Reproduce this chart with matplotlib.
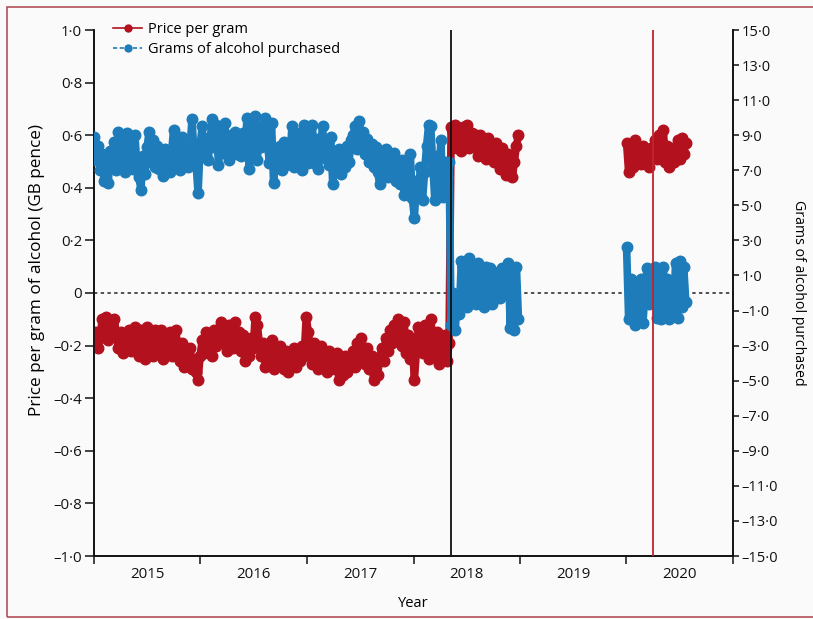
import numpy as np
import pandas as pd
import matplotlib
matplotlib.use("Agg")
import matplotlib.pyplot as plt
import matplotlib.dates as mdates
from matplotlib.lines import Line2D
from matplotlib.patches import Rectangle
from matplotlib.ticker import FixedLocator, FuncFormatter, NullFormatter

plt.rcParams["font.family"] = ["Open Sans", "DejaVu Sans"]

# weekly series, Jan 2015 up to MUP in Scotland (May 2018), then to end of 2018
red_pre = [
    -0.2, -0.15, -0.21, -0.17,
    -0.1, -0.16, -0.09, -0.18, -0.11, -0.15, -0.1,
    -0.16, -0.21, -0.15, -0.23, -0.17, -0.2, -0.14, -0.22, -0.16,
    -0.13, -0.21, -0.24, -0.14, -0.19, -0.25, -0.13, -0.2, -0.16, -0.24, -0.14,
    -0.18, -0.23, -0.14, -0.25, -0.17, -0.21, -0.15, -0.24, -0.19, -0.14,
    -0.2, -0.26, -0.19, -0.28, -0.22, -0.27, -0.21, -0.29, -0.25, -0.3, -0.33,
    -0.24, -0.18, -0.23, -0.15, -0.21, -0.17, -0.24, -0.14, -0.2, -0.16,
    -0.11, -0.19, -0.13, -0.22, -0.12, -0.18, -0.21, -0.11, -0.2, -0.15,
    -0.22, -0.16, -0.26, -0.18, -0.24, -0.17, -0.21,
    -0.09, -0.12, -0.19,
    -0.24, -0.19, -0.28, -0.21, -0.26, -0.18, -0.29, -0.23, -0.27, -0.2,
    -0.25, -0.29, -0.22, -0.3, -0.24, -0.27, -0.21, -0.28, -0.23, -0.26, -0.2, -0.24,
    -0.09, -0.15,
    -0.21, -0.27, -0.19, -0.25, -0.29, -0.2, -0.26, -0.23, -0.3, -0.22, -0.28, -0.24,
    -0.29, -0.23, -0.33, -0.26, -0.31, -0.24, -0.3, -0.27, -0.25,
    -0.22, -0.28, -0.19, -0.25, -0.17, -0.23, -0.27, -0.21,
    -0.29, -0.24, -0.33, -0.27, -0.31, -0.25,
    -0.21, -0.26, -0.17, -0.22, -0.14, -0.19, -0.12, -0.17, -0.1,
    -0.14, -0.2, -0.11, -0.23, -0.16, -0.25, -0.19, -0.33, -0.22, -0.13, -0.18,
    -0.23, -0.12, -0.2, -0.25, -0.1, -0.17, -0.24, -0.15,
    -0.27, -0.17, -0.24, -0.16, -0.26, -0.19,
]
red_post1 = [
    0.63, 0.55, 0.64, 0.57, 0.61,
    0.54, 0.63, 0.58, 0.64, 0.55, 0.61, 0.56, 0.6,
    0.52, 0.6, 0.55, 0.58, 0.51, 0.59, 0.53, 0.56, 0.5, 0.57,
    0.52, 0.47, 0.55, 0.49, 0.45, 0.53, 0.46, 0.44, 0.5,
    0.56, 0.6,
]
grams_pre = [
    8.9, 7.6, 8.4, 7.0, 7.9, 6.4, 7.5, 6.3, 8.1, 7.2,
    8.6, 7.0, 9.2, 7.6, 8.8, 6.9, 9.1, 7.8, 8.5, 7.1, 9.0, 7.4,
    6.6, 5.9, 7.8, 6.8, 8.3,
    9.2, 7.5, 8.7, 7.2, 8.4,
    7.1, 7.9, 6.7, 8.2, 7.3, 6.9, 8.0,
    9.3, 7.4, 8.6, 7.0, 8.9, 7.8,
    8.3, 7.2, 8.1,
    9.9,
    8.0, 7.4, 5.7,
    8.4, 9.5, 7.8, 8.7, 7.6, 8.9,
    9.9, 8.3, 9.6, 7.3, 9.2, 8.0, 9.7, 8.5, 7.6, 9.0,
    8.1, 9.2, 7.9, 8.8, 7.8, 9.1, 8.2,
    10.0, 7.1, 9.5, 8.4, 10.1, 7.6, 9.0, 8.3, 9.6, 10.0,
    8.5, 7.4, 9.7, 6.3, 8.1, 7.5,
    8.4, 7.0, 8.6, 7.3, 8.0, 7.6,
    9.5, 7.2, 8.6, 7.5, 9.1, 7.0, 9.6,
    8.2, 7.4, 8.5,
    9.6, 7.4, 8.8, 7.1, 8.3, 9.5, 7.7, 8.6, 7.3, 8.9,
    6.2, 7.8, 7.0, 8.2, 6.8, 7.9, 7.2, 8.4, 7.5, 8.7,
    9.0, 9.5, 8.2, 9.8, 8.6, 9.2, 7.9,
    8.8, 7.5, 8.5, 7.2, 8.3, 6.9, 6.2, 7.8, 7.0, 8.2, 6.6, 7.6, 6.8, 8.0, 6.4, 7.3,
    6.2, 7.6, 5.6, 7.1, 6.0, 7.9, 5.4, 4.3, 6.4,
    5.8, 7.2, 5.3, 6.9, 8.4, 9.6,
    9.5, 7.4, 5.3, 7.8, 6.4, 8.7, 5.5, 7.5, 6.6, 7.5,
]
grams_post1 = [
    -1.8, 0.0, -2.1, -0.5, -1.2,
    1.8, -0.3, 1.5, -0.8, 2.0, 0.0, 1.2, -0.6,
    1.7, -0.5, 1.1, -0.8, 1.5, 0.0, 1.4, -0.6, 0.9, -0.3,
    1.2, -0.3, 1.4, 0.0, 0.8,
    1.7, -2.0, 0.9, -2.1, 1.5, -1.5,
]

# weekly series, Jan to Jul 2020 (around MUP in Wales)
red_post2 = [
    0.57, 0.46, 0.55, 0.48, 0.58, 0.5,
    0.55, 0.49, 0.56, 0.5, 0.53, 0.48, 0.55,
    0.52, 0.58, 0.51, 0.6, 0.56, 0.62,
    0.5, 0.56, 0.48, 0.55, 0.5, 0.54,
    0.58, 0.51, 0.59, 0.53, 0.57,
]
grams_post2 = [
    2.6, -1.5, 0.8, 0.6, -1.8, 0.3, -1.2, 0.8, -1.7, 0.0,
    1.4, -0.6, 1.2, -0.3, 1.5, -1.4, 0.9, -1.5, 1.5, -0.9,
    0.8, -1.5, 0.5, -1.2, 1.7, -1.4, 1.8, -0.8, 1.5, -0.5,
]

scotland_mup = pd.Timestamp("2018-05-08")
wales_mup = pd.Timestamp("2020-04-01")
years = [2015, 2016, 2017, 2018, 2019, 2020]

RED = "#b3111e"
BLUE = "#1d7cb9"

dates1 = pd.date_range("2015-01-01", periods=len(red_pre) + len(red_post1), freq="7D")
dates2 = pd.date_range("2020-01-02", periods=len(red_post2), freq="7D")
red1 = red_pre + red_post1
grams1 = grams_pre + grams_post1


def tick_fmt(v, _):
    if abs(v) < 1e-9:
        return "0"
    s = f"{abs(v):.1f}".replace(".", "\u00b7")
    return ("\u2013" if v < 0 else "") + s


fig = plt.figure(figsize=(8.13, 6.19), dpi=100, facecolor="#fafafa")
fig.patches.append(Rectangle((7 / 813, 2 / 619), 1.2, 1 - 9 / 619, transform=fig.transFigure,
                             fill=False, edgecolor="#b5505a", lw=1.2))

ax = fig.add_axes([94 / 813, 1 - 556 / 619, (733 - 94) / 813, (556 - 30) / 619])
ax.set_facecolor("none")
ax2 = ax.twinx()

ax.axhline(0, color="#222222", lw=1.1, ls=(0, (2.2, 2.2)), zorder=1)

# daily points overlap into a solid band, so heavy markers and a thick joining line
mk = dict(marker="o", ms=7.6, lw=5.5, solid_joinstyle="round", solid_capstyle="round")
ax.plot(dates1, red1, color=RED, mfc=RED, mec=RED, zorder=3, **mk)
ax.plot(dates2, red_post2, color=RED, mfc=RED, mec=RED, zorder=3, **mk)
ax2.plot(dates1, grams1, color=BLUE, mfc=BLUE, mec=BLUE, zorder=3, **mk)
ax2.plot(dates2, grams_post2, color=BLUE, mfc=BLUE, mec=BLUE, zorder=3, **mk)

ax2.axvline(scotland_mup, color="#111111", lw=1.3, zorder=5)
ax2.axvline(wales_mup, color="#c0242e", lw=1.3, zorder=5)

ax.set_xlim(pd.Timestamp("2015-01-01"), pd.Timestamp("2021-01-01"))
ax.set_ylim(-1.0, 1.0)
ax2.set_ylim(-15, 15)

ax.set_yticks(np.round(np.arange(-1.0, 1.01, 0.2), 1))
ax.yaxis.set_major_formatter(FuncFormatter(tick_fmt))
ax2.set_yticks(np.arange(-15, 16, 2))
ax2.yaxis.set_major_formatter(FuncFormatter(tick_fmt))

ax.xaxis.set_major_locator(FixedLocator(mdates.date2num(
    [pd.Timestamp(f"{y}-01-01") for y in years + [2021]])))
ax.xaxis.set_major_formatter(NullFormatter())
ax.xaxis.set_minor_locator(FixedLocator(mdates.date2num(
    [pd.Timestamp(f"{y}-07-02") for y in years])))
ax.xaxis.set_minor_formatter(FuncFormatter(lambda v, _: str(mdates.num2date(v).year)))

for a in (ax, ax2):
    a.spines["top"].set_visible(False)
    for s in ("left", "right", "bottom"):
        a.spines[s].set_linewidth(1.2)
        a.spines[s].set_color("#111111")

ax.tick_params(axis="y", length=6.5, width=1.1, labelsize=10.8, pad=2, colors="#111111")
ax2.tick_params(axis="y", length=4, width=1.1, labelsize=10.5, pad=2, colors="#111111")
ax.tick_params(axis="x", which="major", length=6, width=1.1, colors="#111111")
ax.tick_params(axis="x", which="minor", length=0, labelsize=10.8, pad=8, colors="#111111")

ax.set_xlabel("Year", fontsize=10.5, labelpad=10)
ax.set_ylabel("Price per gram of alcohol (GB pence)", fontsize=12.3)
ax.yaxis.set_label_coords(-0.077, 0.544)
ax2.set_ylabel("Grams of alcohol purchased", fontsize=10.2, rotation=-90, labelpad=20)

handles = [
    Line2D([], [], color=RED, marker="o", ms=5, lw=1.2),
    Line2D([], [], color=BLUE, marker="o", ms=5, lw=1.2, ls=(0, (2.5, 1.5))),
]
ax.legend(handles, ["Price per gram", "Grams of alcohol purchased"],
          loc="upper left", bbox_to_anchor=(106 / 813, 1 - 15 / 619),
          bbox_transform=fig.transFigure, frameon=False, fontsize=10.5,
          handlelength=2.0, handletextpad=0.4, labelspacing=0.3, borderpad=0)

fig.savefig("out.png", dpi=100, facecolor=fig.get_facecolor())
